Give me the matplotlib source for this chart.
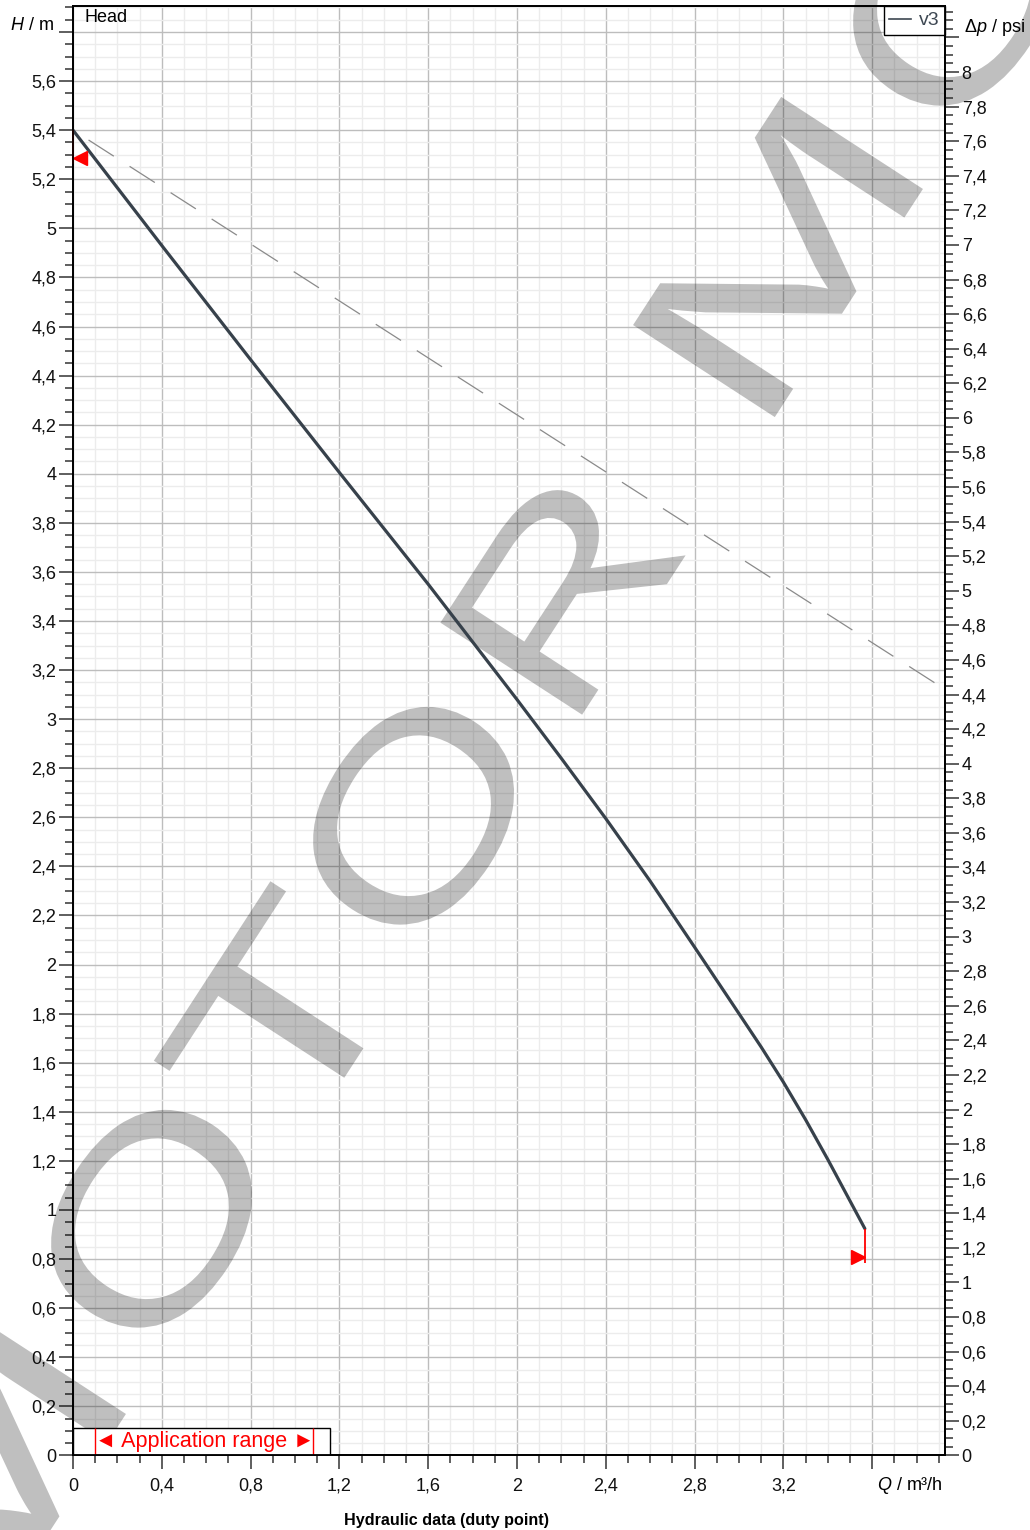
import numpy as np
import matplotlib
matplotlib.use('Agg')
import matplotlib.pyplot as plt
import matplotlib.transforms as mtransforms
from matplotlib.ticker import MultipleLocator, FuncFormatter
from matplotlib.textpath import TextPath
from matplotlib.patches import PathPatch, Rectangle
from matplotlib.font_manager import FontProperties
from matplotlib.lines import Line2D

plt.rcParams['font.family'] = ['Liberation Sans', 'DejaVu Sans']
plt.rcParams['mathtext.fontset'] = 'custom'
plt.rcParams['mathtext.rm'] = 'Liberation Sans'
plt.rcParams['mathtext.it'] = 'Liberation Sans:italic'

# pump curve v3: Q in m³/h, H in m
q_v3 = [0.0, 0.4, 0.8, 1.2, 1.6, 2.0, 2.2, 2.4, 2.6, 2.8, 3.0, 3.1, 3.2, 3.3, 3.4, 3.567]
h_v3 = [5.40, 4.93, 4.465, 4.005, 3.55, 3.08, 2.84, 2.595, 2.34, 2.071, 1.80, 1.664,
        1.521, 1.368, 1.206, 0.924]

# dashed system line
q_sys = [0.07, 3.93]
h_sys = [5.36, 3.12]

# duty point markers (start / end of curve)
op_q = [0.0, 3.567]
op_h = [5.287, 0.81]
op_top = [5.40, 0.924]
op_bot = [5.262, 0.784]

# application range box
app_q = [0.1, 1.083]
app_box_q = 1.158
app_box_h = 0.113

M_PER_PSI = 0.7046
X_MAX = 3.928
Y_MAX = 5.906

# watermark letters (centres in image pixels, measured from top-left)
wm_letters = ['M', 'O', 'T', 'O', 'R', 'M', 'O']
wm_x = [-19, 152, 283, 414, 563, 778, 954]
wm_y = [1482, 1219, 1017, 816, 589, 257, -3]
wm_w = {'M': 272, 'O': 224, 'T': 214, 'R': 190}
wm_h = {'M': 169, 'O': 180, 'T': 169, 'R': 169}
wm_angle = 57

W, H, DPI = 1030, 1530, 100
fig = plt.figure(figsize=(W / DPI, H / DPI), dpi=DPI)
ax = fig.add_axes([73 / W, 1 - 1455.4 / H, (945 - 73) / W, (1455.4 - 6) / H])
ax.set_xlim(0, X_MAX)
ax.set_ylim(0, Y_MAX)


def comma(v, skip=()):
    v = round(v, 2)
    if any(abs(v - s) < 1e-6 for s in skip):
        return ''
    return '{:g}'.format(v).replace('.', ',')


ax.xaxis.set_major_locator(MultipleLocator(0.4))
ax.xaxis.set_minor_locator(MultipleLocator(0.1))
ax.yaxis.set_major_locator(MultipleLocator(0.2))
ax.yaxis.set_minor_locator(MultipleLocator(0.05))
ax.xaxis.set_major_formatter(FuncFormatter(lambda v, p: comma(v, (3.6,))))
ax.yaxis.set_major_formatter(FuncFormatter(lambda v, p: comma(v, (5.8,))))

ax.set_axisbelow(True)
ax.grid(which='minor', color='#ececec', lw=1.0)
ax.grid(which='major', color='#bdbdbd', lw=1.0)

ax.tick_params(which='major', length=10, width=1.1, color='#333333',
               labelsize=13, labelcolor='#111111', pad=2)
ax.tick_params(which='minor', length=5.5, width=1.1, color='#333333')
ax.tick_params(axis='x', which='major', pad=6)

for sp in ax.spines.values():
    sp.set_linewidth(1.3)
    sp.set_color('black')

# right axis in psi
ax2 = ax.twinx()
ax2.set_ylim(0, Y_MAX / M_PER_PSI)
ax2.yaxis.set_major_locator(MultipleLocator(0.2))
ax2.yaxis.set_minor_locator(MultipleLocator(0.05))
ax2.yaxis.set_major_formatter(FuncFormatter(lambda v, p: comma(v, (8.2, 8.4))))
ax2.tick_params(which='major', length=10, width=1.1, color='#333333',
                labelsize=13, labelcolor='#111111', pad=2)
ax2.tick_params(which='minor', length=5.5, width=1.1, color='#333333')
for sp in ax2.spines.values():
    sp.set_linewidth(1.3)
    sp.set_color('black')

# watermark
fp = FontProperties(family='Liberation Sans')
for ch, cx, cy in zip(wm_letters, wm_x, wm_y):
    tp = TextPath((0, 0), ch, size=100, prop=fp)
    bb = tp.get_extents()
    tr = (mtransforms.Affine2D()
          .translate(-bb.x0 - bb.width / 2, -bb.y0 - bb.height / 2)
          .scale(wm_w[ch] / bb.width, wm_h[ch] / bb.height)
          .rotate_deg(wm_angle)
          .translate(cx, H - cy)
          .scale(1 / DPI) + fig.dpi_scale_trans)
    patch = PathPatch(tp, transform=tr, fc='black', ec='none', alpha=0.25, zorder=1.5)
    ax.add_patch(patch)
    patch.set_clip_on(False)

# curves
ax.plot(q_sys, h_sys, color='#8a8a8a', lw=0.9, dashes=(24, 15), zorder=3)
ax.plot(q_v3, h_v3, color='#37414b', lw=2.3, zorder=4, solid_capstyle='round',
        solid_joinstyle='round')

# duty point markers
ax.vlines(op_q, op_bot, op_top, color='red', lw=1.3, zorder=6, clip_on=False)
off = 5.0 / 72
ax.plot(op_q[0], op_h[0], marker='<', ms=10, color='red', ls='none', zorder=6,
        clip_on=False,
        transform=ax.transData + mtransforms.ScaledTranslation(off, 0, fig.dpi_scale_trans))
ax.plot(op_q[1], op_h[1], marker='>', ms=10, color='red', ls='none', zorder=6,
        clip_on=False,
        transform=ax.transData + mtransforms.ScaledTranslation(-off, 0, fig.dpi_scale_trans))

# application range
ax.add_patch(Rectangle((0, 0), app_box_q, app_box_h, fc='white', ec='black', lw=1.0, zorder=5))
ax.vlines(app_q, 0, app_box_h, color='red', lw=1.0, zorder=6)
ax.text(sum(app_q) / 2, app_box_h / 2, '◄ Application range ►', color='red',
        fontsize=15.5, ha='center', va='center', zorder=7)

# legend
handle = Line2D([], [], color='#3d4752', lw=1.2)
leg = ax.legend([handle], ['v3'], loc='upper right', borderaxespad=0, fancybox=False,
                framealpha=1, edgecolor='black', fontsize=14, handlelength=1.1,
                handletextpad=0.4, borderpad=0.3, labelcolor='#3d4752')
leg.get_frame().set_linewidth(1.0)
leg.set_zorder(8)

# labels
fig.text(54 / W, 1 - 25 / H, '$H$ / m', ha='right', va='center', fontsize=13)
fig.text(964 / W, 1 - 27 / H, 'Δ$p$ / psi', ha='left', va='center', fontsize=13)
fig.text(943 / W, 1 - 1485 / H, '$Q$ / m³/h', ha='right', va='center', fontsize=13)
ax.text(85 / W, 1 - 17 / H, 'Head', transform=fig.transFigure, ha='left', va='center',
        fontsize=13)
fig.text(447 / W, 1 - 1520 / H, 'Hydraulic data (duty point)', ha='center', va='center',
         fontsize=11.6, fontweight='bold')

fig.savefig('out.png', dpi=DPI)
